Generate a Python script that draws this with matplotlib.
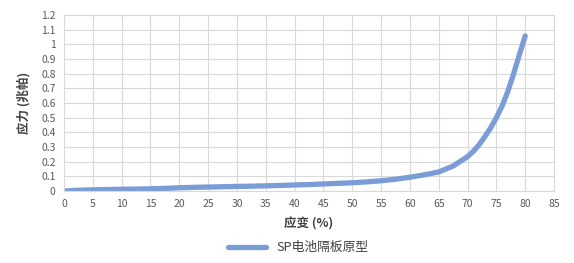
import matplotlib.pyplot as plt
import numpy as np

plt.rcParams['font.family'] = ['Noto Sans CJK SC', 'DejaVu Sans']

# strain (%) and stress (MPa)
strain = [0, 2.5, 5, 7.5, 10, 12.5, 15, 17.5, 20, 22.5, 25, 27.5, 30, 32.5, 35,
          37.5, 40, 42.5, 45, 47.5, 50, 52.5, 55, 57.5, 60, 62.5, 65, 67.5,
          70, 71, 72, 73, 74, 75, 76, 77, 78, 79, 80]
stress = [0.0, 0.005, 0.008, 0.01, 0.012, 0.013, 0.015, 0.018, 0.022, 0.025,
          0.027, 0.029, 0.031, 0.033, 0.035, 0.038, 0.041, 0.044, 0.048, 0.052,
          0.056, 0.062, 0.07, 0.08, 0.094, 0.11, 0.13, 0.17, 0.234, 0.27,
          0.315, 0.37, 0.43, 0.5, 0.58, 0.68, 0.8, 0.93, 1.057]

xticks = list(range(0, 90, 5))
yticks = [round(0.1 * i, 1) for i in range(13)]
yticklabels = ['0', '0.1', '0.2', '0.3', '0.4', '0.5', '0.6', '0.7', '0.8',
               '0.9', '1', '1.1', '1.2']

fig = plt.figure(figsize=(5.74, 2.63), dpi=100)
ax = fig.add_axes([64 / 574, 72 / 263, 490 / 574, 176 / 263])

ax.plot(strain, stress, color='#7A9CD7', linewidth=3.8,
        solid_capstyle='round', solid_joinstyle='round', label='SP电池隔板原型')

ax.set_xlim(0, 85)
ax.set_ylim(0, 1.2)
ax.set_xticks(xticks)
ax.set_yticks(yticks)
ax.set_yticklabels(yticklabels)
ax.grid(True, color='#D9D9D9', linewidth=0.8)
ax.set_axisbelow(True)
for s in ax.spines.values():
    s.set_color('#D9D9D9')
    s.set_linewidth(0.8)
ax.tick_params(length=0, labelsize=7.5, colors='#595959', pad=6)

ax.set_xlabel('应变 (%)', fontsize=9, fontweight='bold', color='#404040', labelpad=6)
ax.set_ylabel('应力 (兆帕)', fontsize=9, fontweight='bold', color='#404040', labelpad=8)

fig.legend(loc='lower center', bbox_to_anchor=(0.52, -0.01), frameon=False,
           fontsize=9.2, handlelength=3.0, labelcolor='#404040')

plt.savefig('out.png', dpi=100)
